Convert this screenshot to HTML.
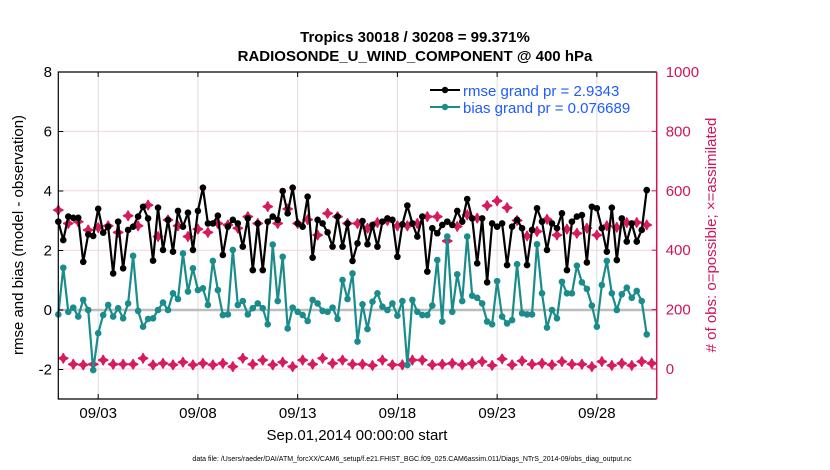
<!DOCTYPE html>
<html><head><meta charset="utf-8"><style>
body{margin:0;background:#fff;}
svg{display:block;font-family:"Liberation Sans",sans-serif;}
</style></head><body>
<svg id="chart" width="830" height="470" viewBox="0 0 830 470">
<rect width="830" height="470" fill="#fff"/>
<text x="415" y="42" text-anchor="middle" font-size="15" font-weight="bold">Tropics 30018 / 30208 = 99.371%</text>
<text x="415" y="61" text-anchor="middle" font-size="15" font-weight="bold">RADIOSONDE_U_WIND_COMPONENT @ 400 hPa</text>
<g id="grid"></g>
<g id="marks"></g>
<g id="axes"></g>
<g>
<line x1="430" y1="90" x2="460" y2="90" stroke="#000" stroke-width="2"/>
<circle cx="445" cy="90" r="3.2" fill="#000"/>
<text x="463" y="96" font-size="15" fill="#1f5bff">rmse grand pr = 2.9343</text>
<line x1="430" y1="107" x2="460" y2="107" stroke="#1a8c8c" stroke-width="2"/>
<circle cx="445" cy="107" r="3.2" fill="#1a8c8c"/>
<text x="463" y="113" font-size="15" fill="#1f5bff">bias grand pr = 0.076689</text>
</g>
<text transform="translate(23,235) rotate(-90)" text-anchor="middle" font-size="15">rmse and bias (model - observation)</text>
<text transform="translate(716,235) rotate(-90)" text-anchor="middle" font-size="15" fill="#d0145a"># of obs: o=possible; ×=assimilated</text>
<text x="357" y="440" text-anchor="middle" font-size="15">Sep.01,2014 00:00:00 start</text>
<text x="412" y="461" text-anchor="middle" font-size="7">data file: /Users/raeder/DAI/ATM_forcXX/CAM6_setup/f.e21.FHIST_BGC.f09_025.CAM6assim.011/Diags_NTrS_2014-09/obs_diag_output.nc</text>
</svg>
<script>
const rmse=[2.97,2.35,3.14,3.1,3.1,1.62,2.54,2.49,3.4,2.6,2.8,1.23,2.97,1.4,2.69,2.8,3.14,3.47,3.08,1.66,3.44,2.02,3.03,1.96,3.33,2.8,3.27,2.02,3.33,4.11,
2.91,2.91,3.17,1.85,2.8,3.03,2.91,2.13,3.08,1.34,2.91,1.34,2.97,3.14,3.03,4.0,3.25,4.11,2.91,2.8,3.81,1.76,3.03,2.91,2.61,2.13,3.14,2.13,2.91,1.65,
2.24,2.99,2.21,2.86,2.13,2.97,3.08,3.03,1.79,2.88,3.51,2.91,2.47,3.14,1.29,2.75,2.58,2.86,2.97,2.86,3.33,2.97,3.73,3.08,1.57,3.08,0.93,2.91,2.8,2.91,
1.51,2.8,3.03,2.75,1.51,2.69,3.42,2.97,2.02,2.91,2.75,3.25,1.34,2.97,3.14,3.19,1.6,3.47,3.42,2.75,1.96,3.44,1.68,3.08,2.3,2.91,2.3,2.69,4.03];
const bias=[-0.15,1.42,-0.06,0.08,-0.22,0.34,0,-2.02,-0.78,-0.17,0.17,-0.22,0.06,-0.28,0.22,1.82,-0.03,-0.56,-0.3,-0.28,0,0.25,0,0.56,0.37,1.9,0.62,1.4,0.67,0.73,
0.17,1.65,0.67,-0.17,-0.15,2.02,0.17,0.3,-0.15,0.06,0.22,0.06,-0.48,2.2,0.3,1.79,-0.62,0.08,-0.06,-0.17,-0.37,0.34,0.22,-0.03,-0.06,0.08,-0.3,1.01,0.37,1.23,
-1.06,0.19,-0.64,0.28,0.56,0.11,0,0.22,-0.19,0.3,-1.85,0.34,-0.06,-0.17,-0.17,0.15,1.68,-0.39,2.47,-0.06,1.2,0.3,2.47,0.48,0.41,0.22,-0.39,-0.48,0.97,-0.22,
-0.45,-0.34,1.54,-0.11,-0.15,-0.15,2.21,0.56,-0.59,0,-0.28,0.95,0.56,0.56,1.49,0.93,0.71,0.15,-0.56,0.84,1.65,0.56,0,0.53,0.75,0.41,0.64,0.3,-0.82];
// assimilated counts at even 6-hour indices
const nUsed=[535,490,496,468,476,482,460,516,482,552,446,502,482,446,471,460,490,485,474,513,490,547,490,539,490,503,451,524,513,490,
490,474,493,500,482,482,490,513,513,431,480,519,508,550,566,543,500,448,463,504,451,471,457,474,451,482,477,493,493,485];
// counts at odd indices
const nPoss=[36,16,14,16,30,16,16,16,36,14,19,14,23,14,19,14,19,8,36,16,30,14,23,8,30,16,36,19,30,16,
16,12,30,14,14,30,30,14,16,19,14,19,25,12,34,14,27,16,19,14,25,16,16,8,25,12,19,12,25,19];
const xTickDays=[2,7,12,17,22,27];
const xTickLabels=["09/03","09/08","09/13","09/18","09/23","09/28"];
const yTicks=[-2,0,2,4,6,8];
const y2Ticks=[0,200,400,600,800,1000];

const L=58.3,R=656.7,T=72,B=399;
const x=d=>L+(R-L)*d/30;
const y=v=>310-29.75*v;
const y2=c=>369-0.297*c;
const NS="http://www.w3.org/2000/svg";
function mk(tag,attrs,parent){const e=document.createElementNS(NS,tag);for(const k in attrs)e.setAttribute(k,attrs[k]);parent.appendChild(e);return e;}
const grid=document.getElementById('grid'),marks=document.getElementById('marks'),axes=document.getElementById('axes');

xTickDays.forEach((d,i)=>{
  const g=mk('line',{x1:x(d),x2:x(d),y1:T,y2:B,stroke:'#dcdcdc','stroke-width':1},grid);
  
  
  mk('line',{x1:x(d),x2:x(d),y1:B,y2:B-5,stroke:'#000'},axes);
  mk('line',{x1:x(d),x2:x(d),y1:T,y2:T+5,stroke:'#000'},axes);
  const t=mk('text',{x:x(d),y:418,'text-anchor':'middle','font-size':15},axes);
  t.textContent=xTickLabels[i];
  
  
});
y2Ticks.forEach(c=>{
  const g=mk('line',{x1:L,x2:R,y1:y2(c),y2:y2(c),stroke:'#f7d3de','stroke-width':1},grid);
  
  
  mk('line',{x1:R,x2:R-5,y1:y2(c),y2:y2(c),stroke:'#d0145a'},axes);
  const t=mk('text',{x:R+9,y:y2(c)+5,'font-size':15,fill:'#d0145a'},axes);
  t.textContent=c;
  
  
});
yTicks.forEach(v=>{
  mk('line',{x1:L,x2:L+5,y1:y(v),y2:y(v),stroke:'#000'},axes);
  const t=mk('text',{x:52,y:y(v)+5,'text-anchor':'end','font-size':15},axes);
  t.textContent=v;
  
  
});
const zl=mk('line',{x1:L,x2:R,y1:y(0),y2:y(0),stroke:'#bdbdbd','stroke-width':2.5},grid);



function star(cx,cy,name){
  const s=4.6,w=1.6;
  const p=mk('path',{d:`M${cx},${cy-s}L${cx+w},${cy-w}L${cx+s},${cy}L${cx+w},${cy+w}L${cx},${cy+s}L${cx-w},${cy+w}L${cx-s},${cy}L${cx-w},${cy-w}Z`,fill:'#d81b5e',stroke:'#d81b5e','stroke-width':1.6,'stroke-linejoin':'round'},marks);
  
  
}
function series(vals,color,name){
  const pts=vals.map((v,i)=>x(i*0.25).toFixed(2)+','+y(v).toFixed(2)).join(' ');
  const pl=mk('polyline',{points:pts,fill:'none',stroke:color,'stroke-width':2.2,'stroke-linejoin':'round'},marks);
  
  
  vals.forEach((v,i)=>{
    const c=mk('circle',{cx:x(i*0.25),cy:y(v),r:3.3,fill:color},marks);
    
    
  });
}
nPoss.forEach((c,k)=>star(x((2*k+1)*0.25),y2(c),'obs-count-marker'));
nUsed.forEach((c,k)=>star(x(2*k*0.25),y2(c),'obs-assimilated-marker'));
series(bias,'#1a8c8c','bias');
series(rmse,'#000','rmse');
nUsed.forEach((c,k)=>{ if(k%1===0){} });

const ax=mk('path',{d:`M${R},${T}H${L}V${B}H${R}`,fill:'none',stroke:'#000','stroke-width':1.2},axes);


const ra=mk('line',{x1:R,x2:R,y1:T,y2:B,stroke:'#d0145a','stroke-width':1.5},axes);


</script>
</body></html>
